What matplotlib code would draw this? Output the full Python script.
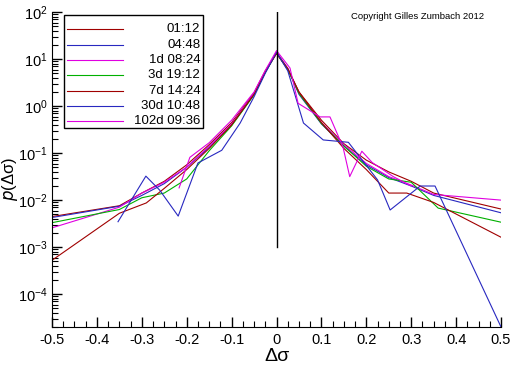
import numpy as np
import matplotlib.pyplot as plt
from matplotlib.patches import Rectangle
from matplotlib.ticker import LogLocator, MultipleLocator, FixedLocator

plt.rcParams['font.family'] = ['Liberation Sans', 'DejaVu Sans']

labels = ["01:12", "04:48", "1d 08:24", "3d 19:12", "7d 14:24", "30d 10:48", "102d 09:36"]
colors = ["#a00000", "#2828c0", "#e000e0", "#00b000", "#a00000", "#2828c0", "#e000e0"]

# log10 p(dsigma)
x_a = [-0.5, -0.35, -0.3, -0.25, -0.2, -0.15, -0.1, -0.05, -0.025, 0, 0.025, 0.05, 0.1, 0.15, 0.2, 0.25, 0.3, 0.35, 0.5]
y_a = [-2.35, -2.12, -1.85, -1.6, -1.25, -0.82, -0.35, 0.28, 0.75, 1.12, 0.78, 0.3, -0.3, -0.8, -1.15, -1.4, -1.6, -1.85, -2.19]
x_b = [-0.5, -0.35, -0.3, -0.25, -0.2, -0.15, -0.1, -0.05, -0.025, 0, 0.025, 0.05, 0.1, 0.15, 0.2, 0.25, 0.3, 0.35, 0.5]
y_b = [-2.37, -2.13, -1.9, -1.65, -1.3, -0.88, -0.4, 0.25, 0.72, 1.14, 0.8, 0.25, -0.38, -0.85, -1.25, -1.52, -1.7, -1.9, -2.27]
x_c = [-0.5, -0.35, -0.3, -0.25, -0.2, -0.15, -0.1, -0.05, -0.025, 0, 0.025, 0.05, 0.1, 0.15, 0.2, 0.25, 0.3, 0.35, 0.5]
y_c = [-2.59, -2.15, -1.85, -1.62, -1.3, -0.85, -0.38, 0.27, 0.74, 1.15, 0.8, 0.28, -0.35, -0.82, -1.22, -1.5, -1.68, -1.88, -2.0]
x_d = [-0.5, -0.35, -0.3, -0.25, -0.2, -0.15, -0.1, -0.05, -0.025, 0, 0.025, 0.05, 0.1, 0.15, 0.2, 0.25, 0.3, 0.36, 0.5]
y_d = [-2.48, -2.2, -1.95, -1.85, -1.55, -0.95, -0.42, 0.24, 0.72, 1.13, 0.78, 0.27, -0.37, -0.85, -1.28, -1.55, -1.62, -2.17, -2.47]
x_e = [-0.5, -0.35, -0.29, -0.25, -0.2, -0.15, -0.1, -0.05, -0.025, 0, 0.025, 0.05, 0.1, 0.15, 0.2, 0.25, 0.29, 0.35, 0.5]
y_e = [-3.28, -2.28, -2.06, -1.75, -1.35, -0.9, -0.4, 0.25, 0.73, 1.12, 0.8, 0.3, -0.35, -0.9, -1.35, -1.85, -1.85, -2.05, -2.79]
x_f = [-0.353, -0.291, -0.26, -0.219, -0.175, -0.122, -0.081, -0.05, -0.025, 0, 0.025, 0.06, 0.104, 0.16, 0.225, 0.253, 0.32, 0.353, 0.5]
y_f = [-2.46, -1.49, -1.79, -2.34, -1.21, -0.94, -0.36, 0.2, 0.7, 1.15, 0.75, -0.36, -0.72, -0.77, -1.57, -2.21, -1.7, -1.7, -4.7]
x_g = [-0.217, -0.193, -0.15, -0.1, -0.05, -0.025, 0, 0.03, 0.048, 0.097, 0.119, 0.148, 0.163, 0.19, 0.213, 0.26, 0.3]
y_g = [-1.74, -1.09, -0.78, -0.3, 0.3, 0.76, 1.18, 0.81, 0.06, -0.23, -0.23, -0.87, -1.5, -0.96, -1.2, -1.5, -1.7]

xs = [x_a, x_b, x_c, x_d, x_e, x_f, x_g]
ys = [y_a, y_b, y_c, y_d, y_e, y_f, y_g]

fig = plt.figure(figsize=(5.12, 3.66), dpi=100)
ax = fig.add_axes([0.1016, 0.1066, 0.877, 0.8604])

for x, y, c in zip(xs, ys, colors):
    ax.plot(x, 10.0 ** np.array(y), color=c, lw=0.8)

ax.plot([0, 0], [1e-3, 1e2], color='black', lw=1)

ax.set_yscale('log')
ax.set_xlim(-0.5, 0.5)
ax.set_ylim(2e-5, 1e2)
ax.xaxis.set_minor_locator(MultipleLocator(0.025))
ax.yaxis.set_major_locator(FixedLocator([1e-4, 1e-3, 1e-2, 1e-1, 1, 10, 100]))
ax.yaxis.set_minor_locator(LogLocator(base=10, subs=np.arange(2, 10), numticks=20))
ax.set_xticks(np.arange(-0.5, 0.51, 0.1))
ax.set_xticklabels(["-0.5", "-0.4", "-0.3", "-0.2", "-0.1", "0", "0.1", "0.2", "0.3", "0.4", "0.5"])
ax.tick_params(which='major', direction='in', length=7, width=1, labelsize=10.5, pad=4)
ax.tick_params(axis='y', which='major', pad=3)
ax.tick_params(which='minor', direction='in', length=4, width=0.8)
ax.spines['top'].set_visible(False)
ax.spines['right'].set_visible(False)
ax.set_xlabel('Δσ', fontsize=14, labelpad=1)
ax.set_ylabel(r'$p$(Δσ)', fontsize=12)
ax.yaxis.set_label_coords(-0.071, 0.47)

ax.text(0.813, 0.985, "Copyright Gilles Zumbach 2012", transform=ax.transAxes,
        fontsize=6.8, ha='center', va='center')

# legend box, labels right aligned like the original
ax.add_patch(Rectangle((0.027, 0.632), 0.309, 0.358, transform=ax.transAxes,
                       fill=True, facecolor='white', edgecolor='black', lw=1, zorder=5))
rows = [29, 45, 60, 75, 91, 106, 121]
for lab, c, py in zip(labels, colors, rows):
    ya = (327 - py) / 315.0
    ax.plot([0.033, 0.158], [ya, ya], color=c, lw=0.8, transform=ax.transAxes, zorder=6)
    ax.text(0.33, ya, lab, transform=ax.transAxes, fontsize=9.5, ha='right', va='center', zorder=6)

plt.savefig("out.png", dpi=100)
